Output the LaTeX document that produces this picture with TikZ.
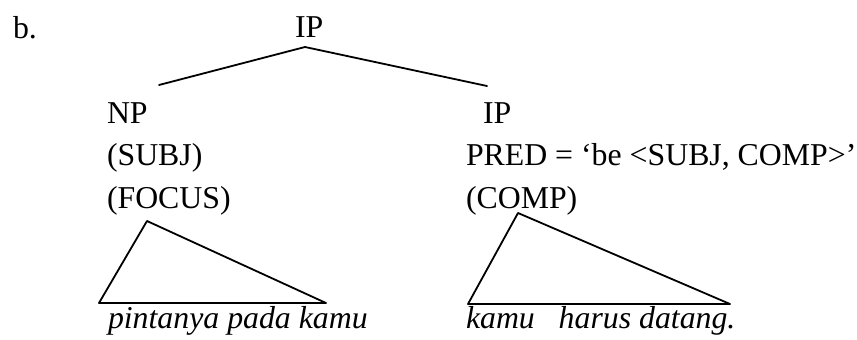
\documentclass[tikz,border=0pt]{standalone}
\usepackage{fontspec}
\setmainfont{Liberation Serif}
\begin{document}
\begin{tikzpicture}[x=1pt,y=-1pt,
  lbl/.style={anchor=base west,inner sep=0pt,outer sep=0pt,font=\fontsize{31.8}{38}\selectfont},
  itl/.style={lbl,font=\fontsize{31.8}{38}\selectfont\itshape},
  branch/.style={line width=1.8pt,line cap=round,line join=round}]
\useasboundingbox (0,0) rectangle (857,340);
\node[lbl] (b) at (13,38) {b.};
\node[lbl] (ip) at (295,37) {IP};
\coordinate (apex) at (305,47);
\coordinate (lend) at (159,85);
\coordinate (rend) at (487,86);
\node[lbl] (np) at (107,123) {NP};
\node[lbl] (subj) at (107,165) {(SUBJ)};
\node[lbl] (focus) at (107,208) {(FOCUS)};
\node[lbl] (ip2) at (483,123) {IP};
\node[lbl] (pred) at (466,165) {PRED = ‘be <SUBJ, COMP>’};
\node[lbl] (comp) at (466,208) {(COMP)};
\node[itl] (lt) at (108,328) {pintanya pada kamu};
\node[itl] (rt) at (466,328) {kamu\ \ \ harus datang.};
\draw[branch] (lend) -- (apex) -- (rend);
\coordinate (la) at (147,221);
\coordinate (lb) at (99,303);
\coordinate (lc) at (326,303);
\draw[branch] (la) -- (lb) -- (lc) -- cycle;
\coordinate (ra) at (518,213);
\coordinate (rb) at (468,304);
\coordinate (rc) at (730,304);
\draw[branch] (ra) -- (rb) -- (rc) -- cycle;
\end{tikzpicture}
\end{document}
